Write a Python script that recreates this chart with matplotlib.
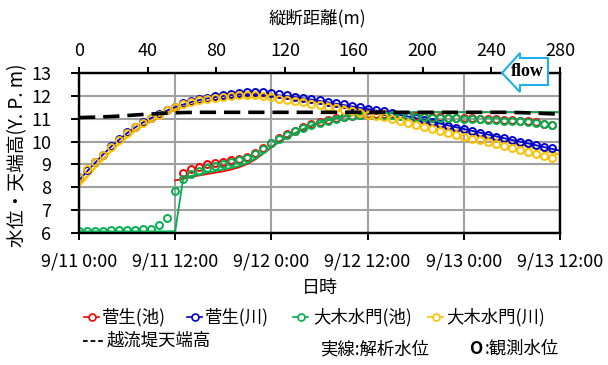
import numpy as np
import matplotlib
matplotlib.use('Agg')
import matplotlib.pyplot as plt
from matplotlib.lines import Line2D
from matplotlib.patches import Polygon

plt.rcParams['font.family'] = ['Noto Sans CJK JP', 'DejaVu Sans']

nan = np.nan

# 時刻 (9/11 0:00 からの経過時間 h)
hours_sim = np.arange(61)
hours_obs = np.arange(60)
time_ticks = [0, 12, 24, 36, 48, 60]
time_labels = ['9/11 0:00', '9/11 12:00', '9/12 0:00', '9/12 12:00', '9/13 0:00', '9/13 12:00']

# 解析水位 (実線)
sugo_pond_sim = [nan, nan, nan, nan, nan, nan, nan, nan, nan, nan, nan, nan,
                 8.30, 8.37, 8.45, 8.52, 8.58, 8.64, 8.70, 8.78, 8.88, 9.02,
                 9.22, 9.48, 9.75, 9.99, 10.19, 10.37, 10.54, 10.69, 10.82, 10.92,
                 11.01, 11.09, 11.14, 11.18, 11.21, 11.23, 11.25, 11.26, 11.27, 11.27,
                 11.27, 11.28, 11.28, 11.28, 11.28, 11.28, 11.28, 11.28, 11.28, 11.28,
                 11.28, 11.28, 11.28, 11.28, 11.28, 11.28, 11.28, 11.28, 11.28]
sugo_river_sim = [8.30, 8.70, 9.07, 9.43, 9.78, 10.08, 10.37, 10.62, 10.84, 11.03,
                  11.20, 11.36, 11.50, 11.62, 11.73, 11.82, 11.89, 11.95, 12.00, 12.04,
                  12.07, 12.08, 12.08, 12.07, 12.05, 12.02, 11.98, 11.94, 11.89, 11.84,
                  11.78, 11.72, 11.66, 11.60, 11.54, 11.48, 11.42, 11.36, 11.30, 11.24,
                  11.17, 11.10, 11.03, 10.95, 10.87, 10.79, 10.71, 10.63, 10.55, 10.47,
                  10.39, 10.31, 10.23, 10.15, 10.07, 10.00, 9.92, 9.84, 9.76, 9.68, 9.60]
ogi_pond_sim = [6.07, 6.07, 6.07, 6.07, 6.07, 6.07, 6.07, 6.07, 6.07, 6.07,
                6.07, 6.07, 6.08, 8.40, 8.50, 8.57, 8.64, 8.71, 8.78, 8.85,
                8.93, 9.06, 9.26, 9.50, 9.77, 10.00, 10.20, 10.38, 10.55, 10.70,
                10.83, 10.93, 11.02, 11.10, 11.15, 11.19, 11.22, 11.24, 11.26, 11.27,
                11.28, 11.28, 11.29, 11.29, 11.29, 11.29, 11.29, 11.29, 11.29, 11.29,
                11.29, 11.29, 11.29, 11.29, 11.29, 11.29, 11.29, 11.29, 11.29, 11.29, 11.29]
ogi_river_sim = [8.06, 8.45, 8.85, 9.22, 9.58, 9.90, 10.20, 10.47, 10.70, 10.90,
                 11.08, 11.25, 11.40, 11.52, 11.62, 11.70, 11.77, 11.83, 11.88, 11.92,
                 11.94, 11.96, 11.97, 11.97, 11.96, 11.93, 11.90, 11.86, 11.82, 11.77,
                 11.72, 11.66, 11.60, 11.54, 11.47, 11.40, 11.33, 11.26, 11.19, 11.12,
                 11.05, 10.98, 10.90, 10.82, 10.74, 10.66, 10.58, 10.50, 10.42, 10.34,
                 10.26, 10.18, 10.10, 10.02, 9.94, 9.86, 9.78, 9.70, 9.61, 9.52, 9.43]

# 観測水位 (○)
sugo_pond_obs = [nan, nan, nan, nan, nan, nan, nan, nan, nan, nan,
                 nan, nan, nan, 8.62, 8.79, 8.87, 9.02, 9.07, 9.12, 9.19,
                 9.25, 9.34, 9.50, 9.70, 9.93, 10.14, 10.32, 10.48, 10.63, 10.75,
                 10.86, 10.95, 11.03, 11.09, 11.14, 11.18, 11.20, 11.21, 11.21, 11.19,
                 11.16, 11.13, 11.11, 11.09, 11.08, 11.06, 11.05, 11.04, 11.03, 11.01,
                 11.00, 10.98, 10.97, 10.95, 10.93, 10.91, 10.88, 10.84, 10.79, 10.74]
sugo_river_obs = [8.45, 8.75, 9.10, 9.43, 9.80, 10.10, 10.40, 10.65, 10.85, 11.05,
                  11.20, 11.38, 11.53, 11.68, 11.78, 11.85, 11.92, 11.98, 12.03, 12.08,
                  12.12, 12.15, 12.16, 12.15, 12.12, 12.08, 12.03, 11.97, 11.92, 11.86,
                  11.80, 11.75, 11.69, 11.63, 11.56, 11.50, 11.44, 11.38, 11.32, 11.26,
                  11.18, 11.10, 11.03, 10.95, 10.86, 10.77, 10.69, 10.61, 10.54, 10.46,
                  10.38, 10.30, 10.22, 10.15, 10.07, 10.00, 9.92, 9.85, 9.77, 9.71]
ogi_pond_obs = [6.07, 6.08, 6.09, 6.10, 6.11, 6.12, 6.13, 6.14, 6.16, 6.19,
                6.37, 6.65, 7.83, 8.38, 8.56, 8.70, 8.85, 8.94, 9.03, 9.10,
                9.18, 9.30, 9.47, 9.68, 9.92, 10.12, 10.30, 10.46, 10.60, 10.72,
                10.83, 10.92, 11.00, 11.06, 11.11, 11.15, 11.17, 11.18, 11.18, 11.16,
                11.13, 11.10, 11.08, 11.06, 11.05, 11.03, 11.02, 11.01, 11.00, 10.98,
                10.97, 10.95, 10.94, 10.92, 10.90, 10.88, 10.85, 10.81, 10.76, 10.71]
ogi_river_obs = [8.47, 8.78, 9.10, 9.42, 9.78, 10.07, 10.38, 10.62, 10.83, 11.03,
                 11.18, 11.36, 11.50, 11.63, 11.73, 11.80, 11.87, 11.92, 11.96, 11.99,
                 12.02, 12.03, 12.02, 12.00, 11.95, 11.88, 11.82, 11.77, 11.72, 11.66,
                 11.59, 11.53, 11.47, 11.40, 11.32, 11.25, 11.18, 11.12, 11.06, 10.97,
                 10.88, 10.81, 10.74, 10.64, 10.54, 10.46, 10.36, 10.28, 10.20, 10.12,
                 10.05, 9.97, 9.88, 9.80, 9.73, 9.64, 9.54, 9.46, 9.38, 9.30]

# 越流堤天端高 (縦断距離 m)
crest_dist = np.arange(0, 281, 10)
crest_height = [11.05, 11.07, 11.10, 11.15, 11.20, 11.24, 11.27, 11.28, 11.28, 11.28,
                11.28, 11.28, 11.28, 11.28, 11.28, 11.28, 11.28, 11.28, 11.28, 11.28,
                11.28, 11.28, 11.28, 11.28, 11.28, 11.28, 11.26, 11.23, 11.20]

names = ['菅生(池)', '菅生(川)', '大木水門(池)', '大木水門(川)']
colors = ['#FF0000', '#0000CC', '#00B050', '#FFC000']
sims = [sugo_pond_sim, sugo_river_sim, ogi_pond_sim, ogi_river_sim]
obss = [sugo_pond_obs, sugo_river_obs, ogi_pond_obs, ogi_river_obs]
line_w = [1.3, 1.3, 1.3, 1.8]

W, H = 608, 365
fig = plt.figure(figsize=(W / 100, H / 100), dpi=100)
ax = fig.add_axes([79 / W, 1 - 233 / H, 481 / W, 160 / H])


def fx(x):
    return x / W


def fy(y):
    return 1 - y / H


for s, c, lw in zip(sims, colors, line_w):
    ax.plot(hours_sim, s, color=c, lw=lw, zorder=3)
for o, c in zip(obss, colors):
    ax.plot(hours_obs, o, ls='none', marker='o', ms=5, mfc='none', mec=c, mew=1.4, zorder=4)

ax.set_xlim(0, 60)
ax.set_ylim(6, 13)
ax.set_xticks(time_ticks)
ax.set_xticklabels(time_labels)
ax.set_yticks(range(6, 14))
ax.grid(True, color='#a0a0a0', lw=1.5)
ax.set_axisbelow(True)
ax.tick_params(axis='x', direction='out', length=5, width=1.4, labelsize=13, pad=9)
ax.tick_params(axis='y', direction='out', length=6, width=1.4, labelsize=13, pad=14)
for sp in ax.spines.values():
    sp.set_linewidth(1.6)

ax2 = ax.twiny()
ax2.plot(crest_dist, crest_height, color='black', lw=2.6, dashes=(4.5, 2.2), zorder=5)
ax2.set_xlim(0, 280)
ax2.set_xticks(range(0, 281, 40))
ax2.tick_params(axis='x', direction='out', length=4, width=1.4, labelsize=13, pad=5)
for sp in ax2.spines.values():
    sp.set_linewidth(1.6)

fig.text(fx(317), fy(18), '縦断距離(m)', ha='center', va='center', fontsize=12.5)
fig.text(fx(320), fy(288), '日時', ha='center', va='center', fontsize=13)
fig.text(fx(18), fy(155), '水位・天端高(Y. P. m)', rotation=90, ha='center', va='center', fontsize=13.5)

# 凡例 (手動配置)
row1_y = 317
handle_x = [84, 187, 293, 428]
text_x = [102, 205, 313, 446]
for hx, tx, c, n in zip(handle_x, text_x, colors, names):
    fig.add_artist(Line2D([fx(hx), fx(hx + 15)], [fy(row1_y), fy(row1_y)], color=c, lw=1.2,
                          transform=fig.transFigure))
    fig.add_artist(Line2D([fx(hx + 7.5)], [fy(row1_y)], ls='none', marker='o', ms=5, mfc='white',
                          mec=c, mew=1.2, transform=fig.transFigure))
    fig.text(fx(tx), fy(row1_y), n, ha='left', va='center', fontsize=12.5)

row2_y = 341
fig.add_artist(Line2D([fx(83), fx(103)], [fy(row2_y), fy(row2_y)], color='black', lw=1.3,
                      dashes=(2.6, 1.6), transform=fig.transFigure))
fig.text(fx(107), fy(row2_y), '越流堤天端高', ha='left', va='center', fontsize=12.5)
fig.text(fx(320), fy(349), '実線:解析水位', ha='left', va='center', fontsize=12.5)
fig.text(fx(469), fy(349), 'O', ha='left', va='center', fontsize=12.5, fontweight='bold')
fig.text(fx(485), fy(349), ':観測水位', ha='left', va='center', fontsize=12.5)

# flow 矢印
arrow_px = [(502, 73), (520, 53), (520, 58), (548, 58), (548, 85), (520, 85), (520, 92)]
arrow = Polygon([(fx(x), fy(y)) for x, y in arrow_px], closed=True, transform=fig.transFigure,
                facecolor='white', edgecolor='#1EB0EA', lw=1.5, zorder=10)
fig.add_artist(arrow)
fig.text(fx(527), fy(72), 'flow', ha='center', va='center', fontsize=13, fontweight='bold',
         family='Liberation Serif', zorder=11)

fig.savefig('out.png', dpi=100)
